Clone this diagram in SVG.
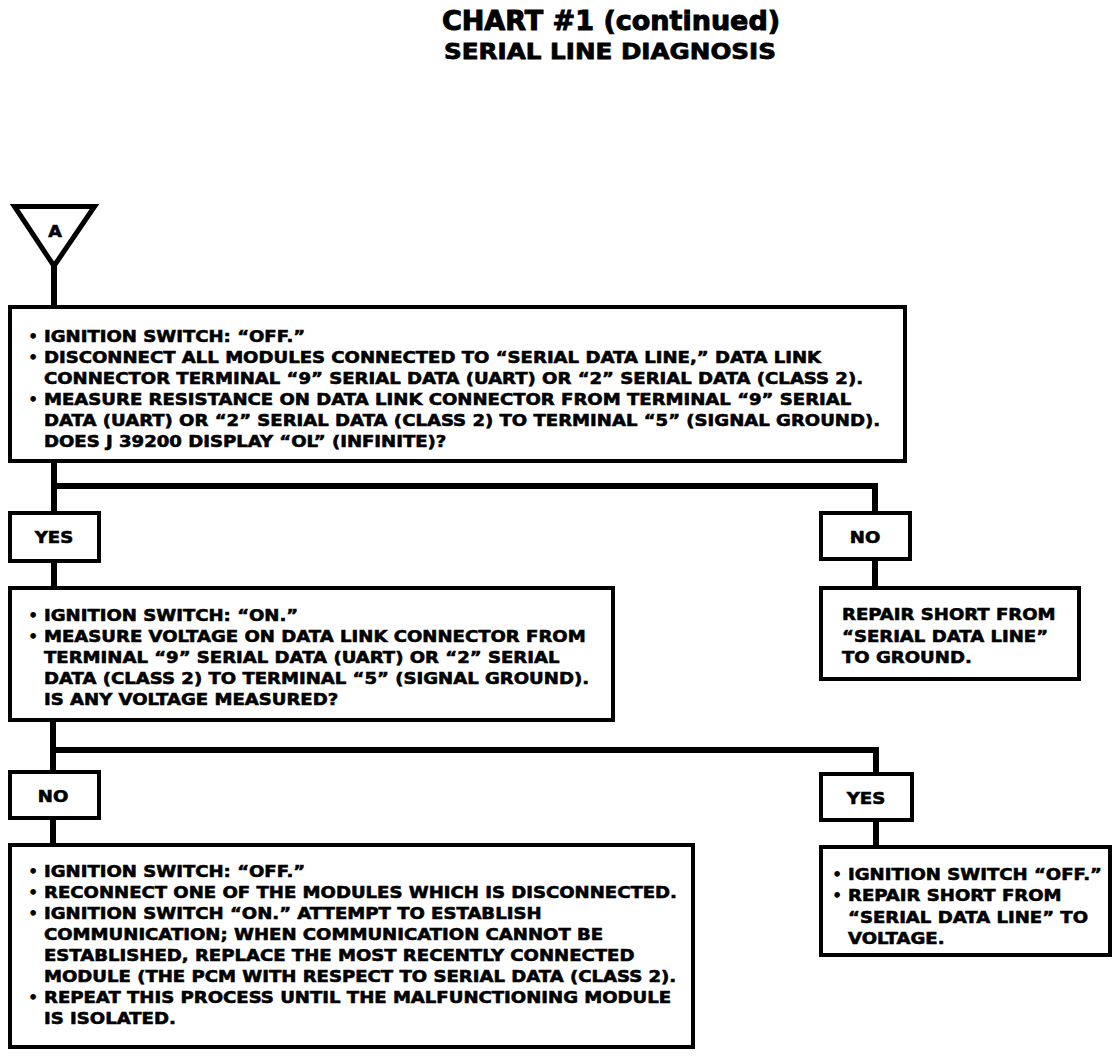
<svg xmlns="http://www.w3.org/2000/svg" width="1120" height="1058" viewBox="0 0 1120 1058">
<style>
.box{fill:#fff;stroke:#000;stroke-width:4}
.t{font-family:"DejaVu Sans","Liberation Sans",sans-serif;font-weight:bold;font-size:16px;fill:#000;stroke:#000;stroke-width:0.6}
.b{font-family:"DejaVu Sans","Liberation Sans",sans-serif;font-weight:bold;font-size:16px;fill:#000;text-anchor:middle}
.c{text-anchor:middle}
.wire{fill:none;stroke:#000;stroke-width:6;stroke-linejoin:miter;stroke-linecap:butt}
</style>
<rect width="1120" height="1058" fill="#fff"/>
<g id="title">
<text class="t" x="611" y="30" text-anchor="middle" style="font-size:27px;stroke-width:1">CHART #1 (continued)</text>
<text class="t c" transform="translate(610,59) scale(1.12,1)" style="font-size:22px;stroke-width:0.8">SERIAL LINE DIAGNOSIS</text>
</g>
<g id="connectors">
<path class="wire" d="M54 266 V307"/>
<path class="wire" d="M54 461 V513 M54 486 H875 V513"/>
<path class="wire" d="M54 561 V588"/>
<path class="wire" d="M875 559 V588"/>
<path class="wire" d="M53 720 V772 M53 750 H876 V774"/>
<path class="wire" d="M53 818 V845"/>
<path class="wire" d="M876 820 V847"/>
</g>
<g id="nodeA">
<polygon points="14.5,206.5 94.5,206.5 54,266" fill="#fff" stroke="#000" stroke-width="5" stroke-linejoin="miter"/>
<text class="t c" transform="translate(55,237) scale(1.1,1)" style="font-size:16px">A</text>
</g>
<g id="box1">
<rect class="box" x="10" y="307" width="895" height="154"/>
<text class="b" x="33" y="342">•</text>
<text class="b" x="33" y="363">•</text>
<text class="b" x="33" y="405">•</text>
<g transform="translate(44,0) scale(1.13,1)">
<text class="t" x="0" y="342">IGNITION SWITCH: “OFF.”</text>
<text class="t" x="0" y="363">DISCONNECT ALL MODULES CONNECTED TO “SERIAL DATA LINE,” DATA LINK</text>
<text class="t" x="0" y="384">CONNECTOR TERMINAL “9” SERIAL DATA (UART) OR “2” SERIAL DATA (CLASS 2).</text>
<text class="t" x="0" y="405">MEASURE RESISTANCE ON DATA LINK CONNECTOR FROM TERMINAL “9” SERIAL</text>
<text class="t" x="0" y="426">DATA (UART) OR “2” SERIAL DATA (CLASS 2) TO TERMINAL “5” (SIGNAL GROUND).</text>
<text class="t" x="0" y="447">DOES J 39200 DISPLAY “OL” (INFINITE)?</text>
</g>
</g>
<g id="yes1">
<rect class="box" x="10" y="513" width="89" height="48"/>
<text class="t c" transform="translate(54,543) scale(1.13,1)">YES</text>
</g>
<g id="no1">
<rect class="box" x="821" y="513" width="89" height="46"/>
<text class="t c" transform="translate(865,543) scale(1.13,1)">NO</text>
</g>
<g id="repair1">
<rect class="box" x="821" y="588" width="258" height="91"/>
<g transform="translate(842,0) scale(1.13,1)">
<text class="t" x="0" y="620">REPAIR SHORT FROM</text>
<text class="t" x="0" y="642">“SERIAL DATA LINE”</text>
<text class="t" x="0" y="663">TO GROUND.</text>
</g>
</g>
<g id="box2">
<rect class="box" x="10" y="588" width="603" height="132"/>
<text class="b" x="33" y="621">•</text>
<text class="b" x="33" y="642">•</text>
<g transform="translate(44,0) scale(1.13,1)">
<text class="t" x="0" y="621">IGNITION SWITCH: “ON.”</text>
<text class="t" x="0" y="642">MEASURE VOLTAGE ON DATA LINK CONNECTOR FROM</text>
<text class="t" x="0" y="663">TERMINAL “9” SERIAL DATA (UART) OR “2” SERIAL</text>
<text class="t" x="0" y="684">DATA (CLASS 2) TO TERMINAL “5” (SIGNAL GROUND).</text>
<text class="t" x="0" y="705">IS ANY VOLTAGE MEASURED?</text>
</g>
</g>
<g id="no2">
<rect class="box" x="10" y="772" width="89" height="46"/>
<text class="t c" transform="translate(53,802) scale(1.13,1)">NO</text>
</g>
<g id="yes2">
<rect class="box" x="821" y="774" width="91" height="46"/>
<text class="t c" transform="translate(866,804) scale(1.13,1)">YES</text>
</g>
<g id="box3">
<rect class="box" x="10" y="845" width="683" height="202"/>
<text class="b" x="33" y="877">•</text>
<text class="b" x="33" y="898">•</text>
<text class="b" x="33" y="919">•</text>
<text class="b" x="33" y="1003">•</text>
<g transform="translate(44,0) scale(1.13,1)">
<text class="t" x="0" y="877">IGNITION SWITCH: “OFF.”</text>
<text class="t" x="0" y="898">RECONNECT ONE OF THE MODULES WHICH IS DISCONNECTED.</text>
<text class="t" x="0" y="919">IGNITION SWITCH “ON.” ATTEMPT TO ESTABLISH</text>
<text class="t" x="0" y="940">COMMUNICATION; WHEN COMMUNICATION CANNOT BE</text>
<text class="t" x="0" y="961">ESTABLISHED, REPLACE THE MOST RECENTLY CONNECTED</text>
<text class="t" x="0" y="982">MODULE (THE PCM WITH RESPECT TO SERIAL DATA (CLASS 2).</text>
<text class="t" x="0" y="1003">REPEAT THIS PROCESS UNTIL THE MALFUNCTIONING MODULE</text>
<text class="t" x="0" y="1024">IS ISOLATED.</text>
</g>
</g>
<g id="box4">
<rect class="box" x="821" y="847" width="289" height="108"/>
<text class="b" x="837" y="880">•</text>
<text class="b" x="837" y="901">•</text>
<g transform="translate(848,0) scale(1.13,1)">
<text class="t" x="0" y="880">IGNITION SWITCH “OFF.”</text>
<text class="t" x="0" y="901">REPAIR SHORT FROM</text>
<text class="t" x="0" y="923">“SERIAL DATA LINE” TO</text>
<text class="t" x="0" y="944">VOLTAGE.</text>
</g>
</g>
</svg>
